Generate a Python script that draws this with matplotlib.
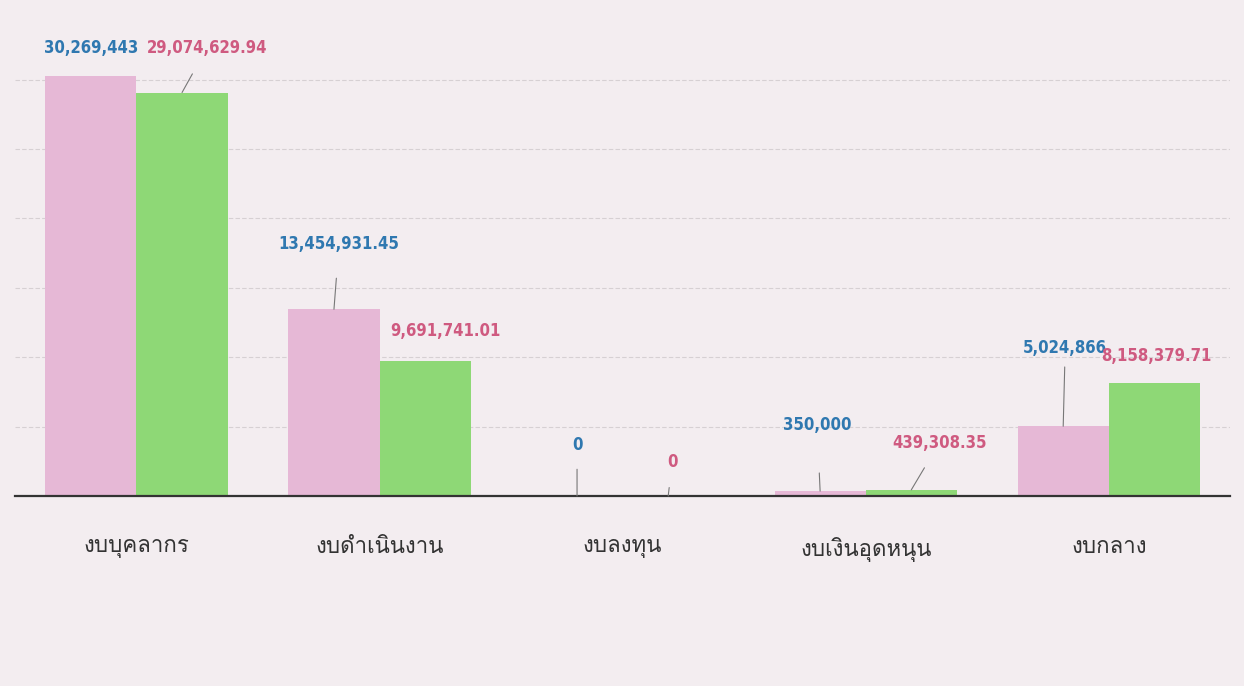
import matplotlib as mpl
mpl.use('Agg')
import matplotlib.pyplot as plt
from matplotlib import font_manager
from matplotlib.font_manager import FontProperties
from matplotlib.ft2font import FT2Font
import numpy as np

categories = ['งบบุคลากร', 'งบดำเนินงาน', 'งบลงทุน', 'งบเงินอุดหนุน', 'งบกลาง']
budget = [30269443, 13454931.45, 0, 350000, 5024866]
spent = [29074629.94, 9691741.01, 0, 439308.35, 8158379.71]
budget_labels = ['30,269,443', '13,454,931.45', '0', '350,000', '5,024,866']
spent_labels = ['29,074,629.94', '9,691,741.01', '0', '439,308.35', '8,158,379.71']

# label offsets in pixels (dx, dy, leader shrink in points or None)
budget_offsets = [(0, 28, None), (5, 65, 16), (0, 51, 9), (-3, 66, 26), (2, 78, 5)]
spent_offsets = [(25, 45, 12), (20, 30, None), (4, 34, 10), (28, 47, 11), (2, 27, None)]


def thai_font():
    # find an installed font that has Thai glyphs
    for f in font_manager.fontManager.ttflist:
        try:
            cmap = FT2Font(f.fname).get_charmap()
        except Exception:
            continue
        if ord('ง') in cmap and ord('ุ') in cmap:
            return f.name
    return 'DejaVu Sans'


def narrow_bold():
    # look for a condensed bold face for the numbers
    files = [f.fname for f in font_manager.fontManager.ttflist]
    for key in ['LiberationSansNarrow-Bold.', 'DejaVuSansCondensed-Bold.', 'Condensed-Bold', 'Narrow-Bold']:
        for fn in files:
            if key in fn.split('/')[-1] and 'Italic' not in fn and 'Oblique' not in fn:
                return FontProperties(fname=fn, size=12)
    return FontProperties(family='DejaVu Sans', weight='bold', stretch='condensed', size=12)


thai = thai_font()
num_fp = narrow_bold()

bg = '#f3edf0'
pink = '#e6b8d6'
green = '#8ed876'
blue_txt = '#2f78b0'
pink_txt = '#cf5a80'

fig = plt.figure(figsize=(12.44, 6.86), dpi=100)
fig.patch.set_facecolor(bg)
ax = fig.add_axes([0.012, 0.277, 0.977, 0.708])
ax.set_facecolor(bg)

x = np.arange(len(categories))
w = 0.375
ax.bar(x - w / 2, budget, w, color=pink, zorder=2)
ax.bar(x + w / 2, spent, w, color=green, zorder=2)

ax.set_xlim(-0.5, 4.5)
ax.set_ylim(0, 35000000)
ax.set_yticks(np.arange(5000000, 30000001, 5000000))
ax.yaxis.grid(True, color='#d6d0d3', linestyle=(0, (4, 2)), linewidth=0.8, zorder=0)
ax.tick_params(axis='y', left=False, labelleft=False)
ax.tick_params(axis='x', bottom=False, pad=26)
for s in ['top', 'right', 'left']:
    ax.spines[s].set_visible(False)
ax.spines['bottom'].set_color('#333333')
ax.spines['bottom'].set_linewidth(1.6)
ax.spines['bottom'].set_zorder(3)

ax.set_xticks(x)
ax.set_xticklabels(categories, fontsize=16, family=thai, color='#333333')


def label(xpos, val, txt, off, color):
    dx, dy, shrink = off
    arrow = None
    if shrink is not None:
        arrow = dict(arrowstyle='-', color='#777777', lw=0.8, shrinkA=shrink, shrinkB=0)
    ax.annotate(txt, xy=(xpos, val), xytext=(dx, dy), textcoords='offset pixels',
                ha='center', va='center', fontproperties=num_fp,
                color=color, arrowprops=arrow, zorder=4)


for i in range(len(categories)):
    label(x[i] - w / 2, budget[i], budget_labels[i], budget_offsets[i], blue_txt)
    label(x[i] + w / 2, spent[i], spent_labels[i], spent_offsets[i], pink_txt)

fig.savefig('out.png', dpi=100, facecolor=bg)
